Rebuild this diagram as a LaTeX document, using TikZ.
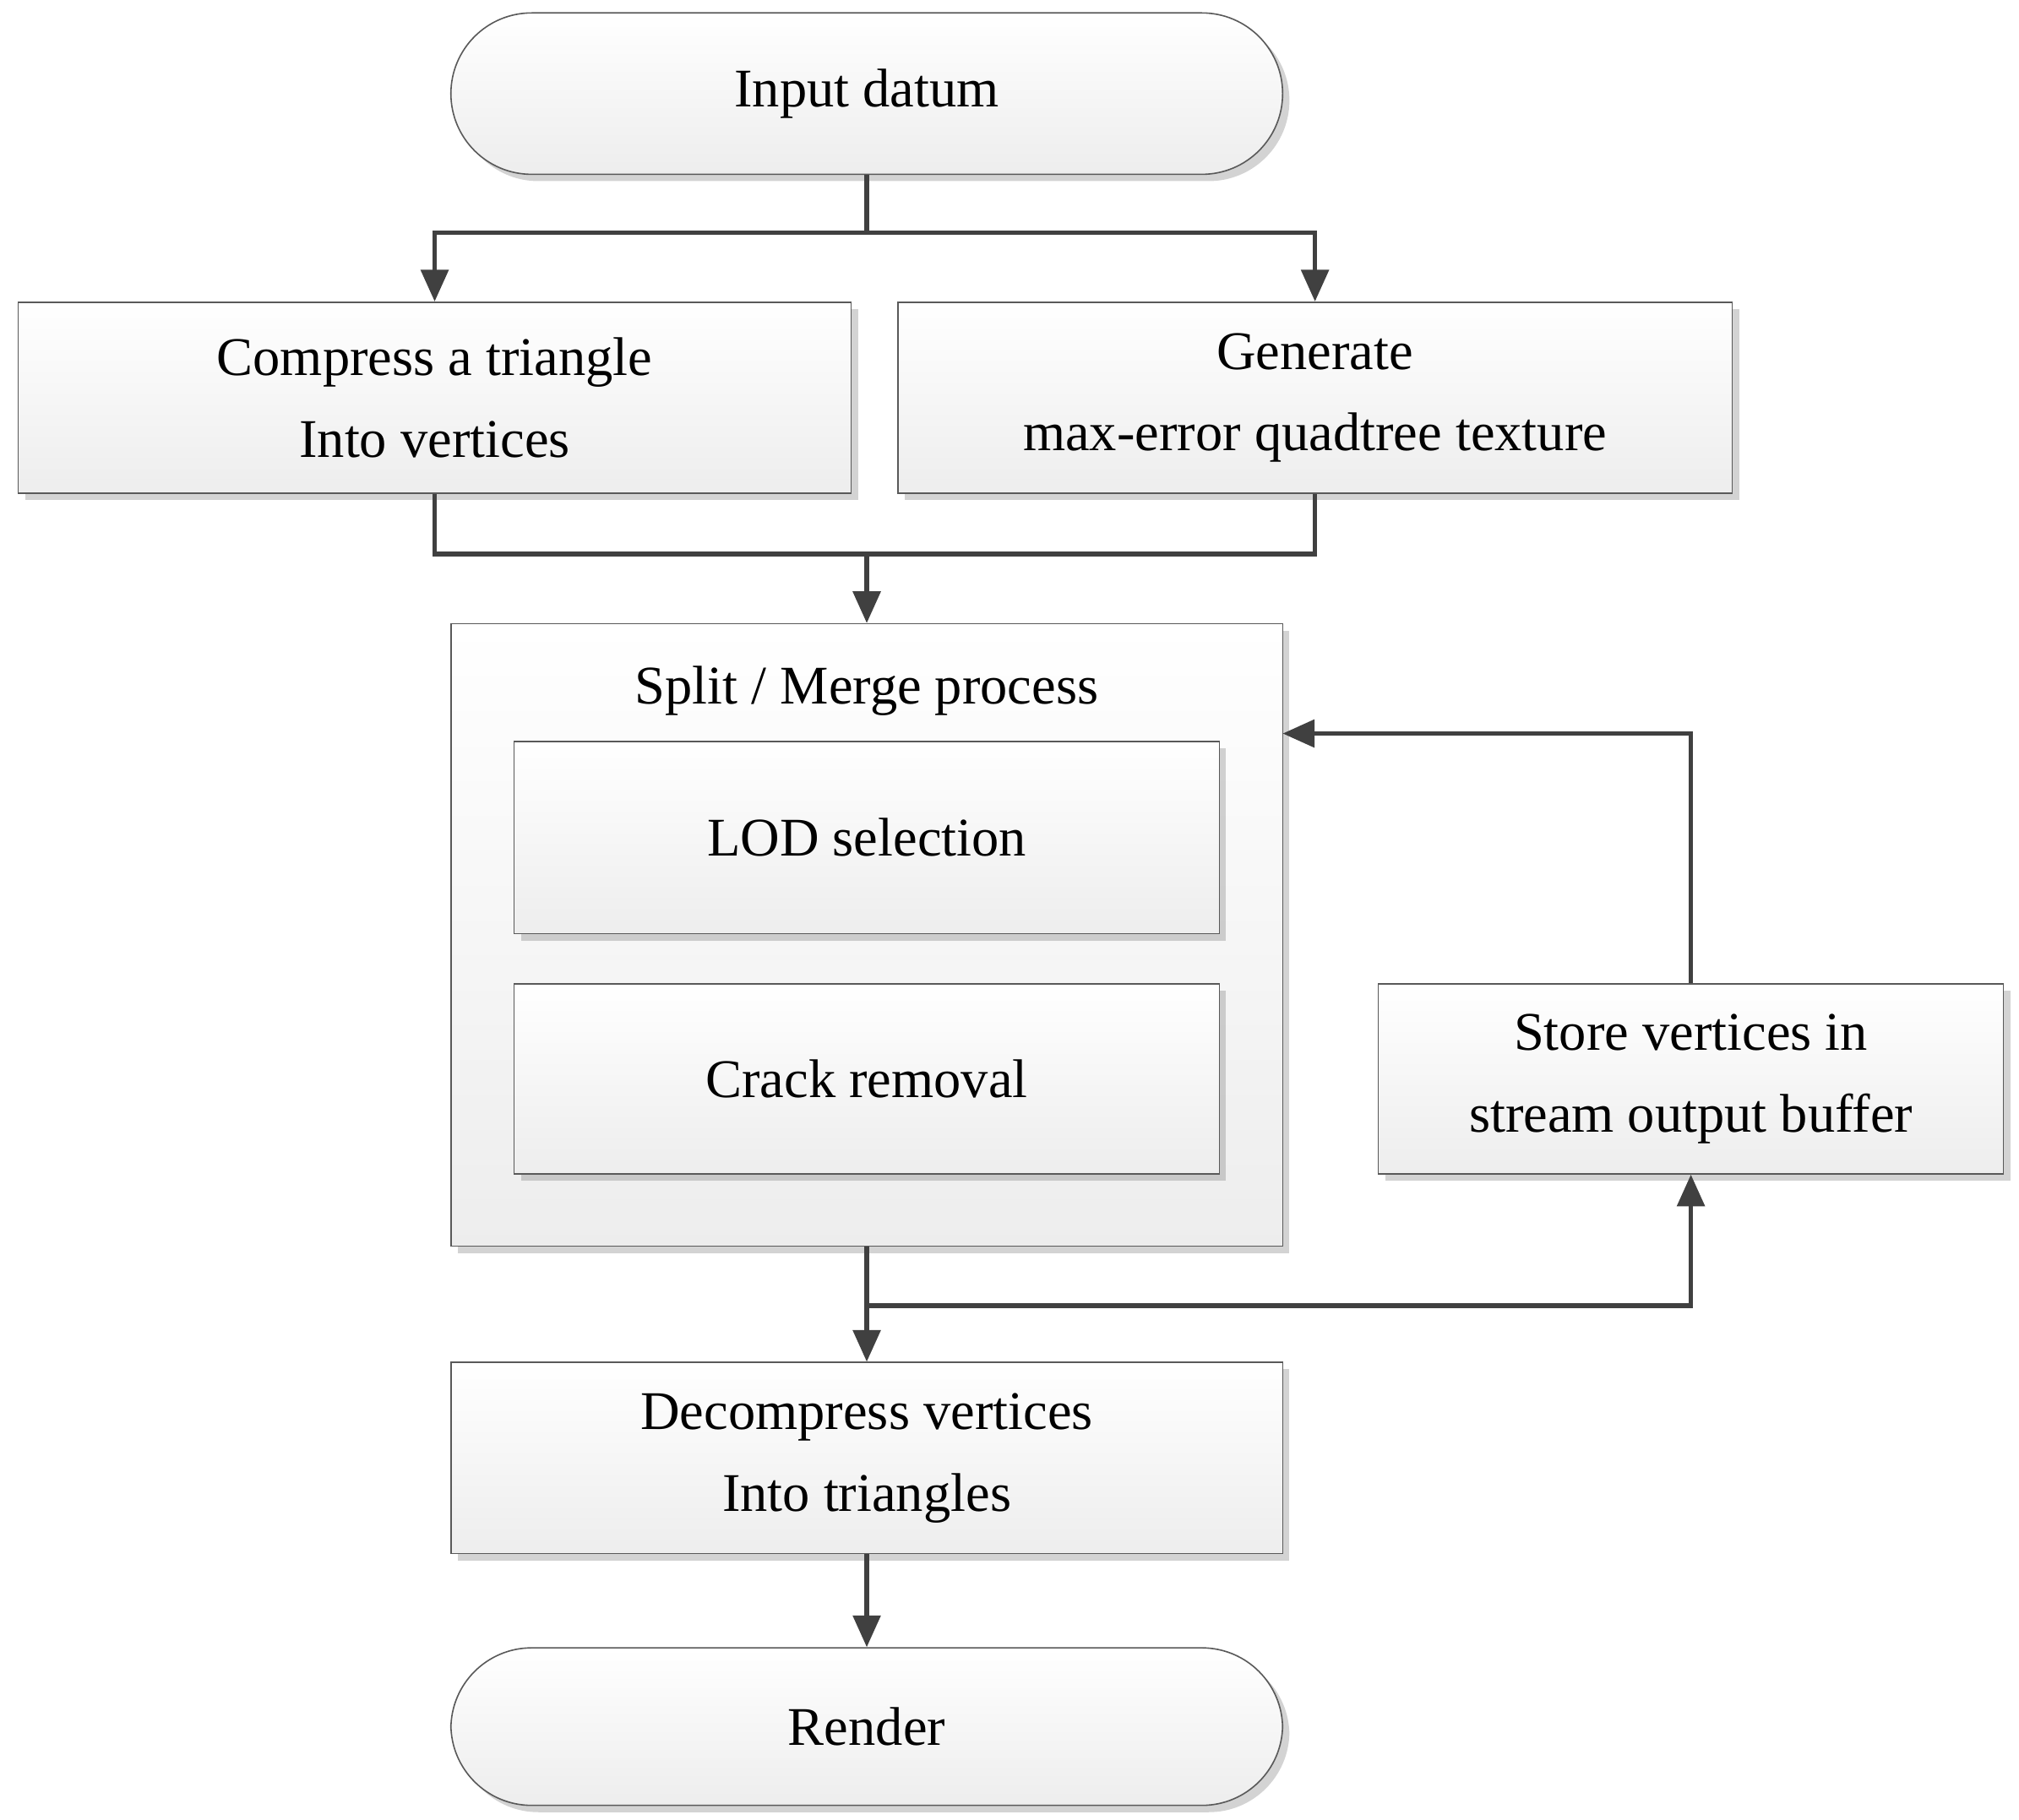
\documentclass[tikz,border=0pt]{standalone}
\usepackage{fontspec}
\setmainfont{Liberation Serif}
\usetikzlibrary{shadows,arrows.meta}
\begin{document}
\begin{tikzpicture}[x=0.02cm,y=-0.02cm,
  box/.style={draw=gray!70!black,line width=0.6pt,top color=white,bottom color=gray!14,
     drop shadow={shadow xshift=3pt,shadow yshift=-3pt,opacity=0.35},
     font=\fontsize{24}{36}\selectfont,align=center,inner sep=0pt},
  term/.style={box,rounded corners=1.25cm},
  con/.style={draw=black!75,line width=2pt},
  arr/.style={con,-{Triangle[length=14pt,width=12pt]}}]
\useasboundingbox (0,0) rectangle (1563,1409);
\node[term,minimum width=12.88cm,minimum height=2.5cm] (in) at (671,72.5) {Input datum};
\node[box,minimum width=12.9cm,minimum height=2.96cm] (comp) at (336.5,308) {Compress a triangle\\Into vertices};
\node[box,minimum width=12.92cm,minimum height=2.96cm] (gen) at (1018,308) {Generate\\max-error quadtree texture};
\node[box,minimum width=12.88cm,minimum height=9.64cm] (sm) at (671,724) {};
\node[font=\fontsize{24}{36}\selectfont] (smt) at (671,535) {Split / Merge process};
\node[box,minimum width=10.92cm,minimum height=2.98cm] (lod) at (671,648.5) {LOD selection};
\node[box,minimum width=10.92cm,minimum height=2.94cm] (crk) at (671,835.5) {Crack removal};
\node[box,minimum width=9.68cm,minimum height=2.94cm] (st) at (1309,835.5) {Store vertices in\\stream output buffer};
\node[box,minimum width=12.88cm,minimum height=2.96cm] (dec) at (671,1129) {Decompress vertices\\Into triangles};
\node[term,minimum width=12.88cm,minimum height=2.44cm] (ren) at (671,1337) {Render};
\coordinate (j1) at (671,180);
\coordinate (j2) at (671,429);
\coordinate (j3) at (671,1011);
\draw[con] (in.south) -- (j1);
\draw[arr] (j1) -| (comp.north);
\draw[arr] (j1) -| (gen.north);
\draw[con] (comp.south) |- (j2) -| (gen.south);
\draw[arr] (j2) -- (sm.north);
\draw[arr] (sm.south) -- (dec.north);
\draw[arr] (j3) -| (st.south);
\draw[arr] (st.north) |- (993,568);
\draw[arr] (dec.south) -- (ren.north);
\end{tikzpicture}
\end{document}
